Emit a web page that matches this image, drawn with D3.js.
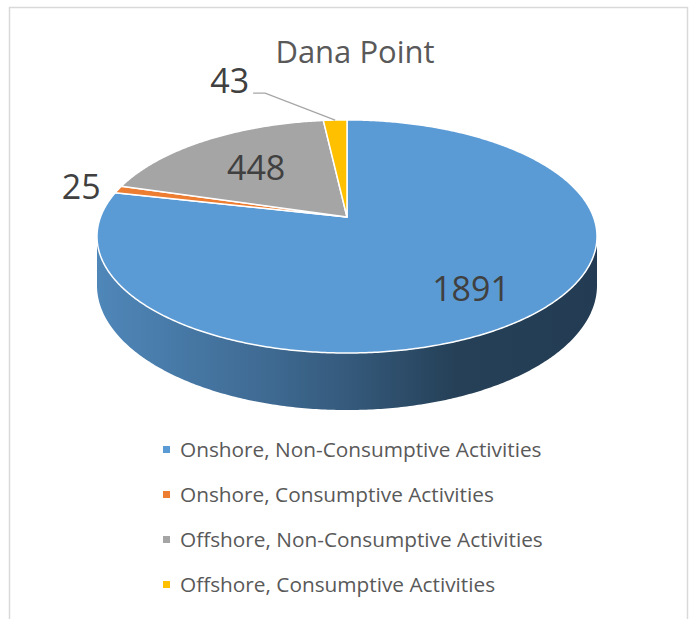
<!DOCTYPE html>
<html>
<head>
<meta charset="utf-8">
<script src="https://cdn.jsdelivr.net/npm/d3@7"></script>
<style>
  body { margin: 0; background: #fff; }
  svg { display: block; font-family: "Open Sans", sans-serif; }
</style>
</head>
<body>
<svg></svg>
<script>
// datos del grafico
var titulo = "Dana Point";
var categorias = ["Onshore, Non-Consumptive Activities", "Onshore, Consumptive Activities",
                  "Offshore, Non-Consumptive Activities", "Offshore, Consumptive Activities"];
var valores = [1891, 25, 448, 43];
var colores = ["#5b9bd5", "#ed7d31", "#a5a5a5", "#ffc000"];

var w = 696, h = 619;
var svg = d3.select("svg").attr("width", w).attr("height", h);

// marco del grafico
svg.append("path")
  .attr("d", "M9.5," + h + "V7.5H687.5V" + h)
  .attr("fill", "none")
  .attr("stroke", "#d9d9d9")
  .attr("stroke-width", 1.5);

svg.append("text")
  .attr("x", 355).attr("y", 63)
  .attr("text-anchor", "middle")
  .attr("font-size", 31)
  .attr("fill", "#595959")
  .text(titulo);

// proyeccion en perspectiva del disco (angulo desde las 12, sentido horario)
var cx = 347, cy = 217, k = 0.167, A = 246.5, B = 113.3, prof = 47.5;
function proyectar(ang, r, abajo) {
  var u = r * Math.sin(ang), v = -r * Math.cos(ang);
  var s = 1 / (1 - k * v);
  return [cx + A * u * s, cy + B * v * s + (abajo ? prof * s : 0)];
}
function arco(a0, a1, abajo) {
  var n = Math.max(2, Math.ceil(Math.abs(a1 - a0) / 0.01));
  return d3.range(n + 1).map(function(i) { return proyectar(a0 + (a1 - a0) * i / n, 1, abajo); });
}

var pie = d3.pie().sort(null).value(function(d) { return d; });
var arcos = pie(valores);
var total = d3.sum(valores);

// degradado del lateral para cada porcion
var defs = svg.append("defs");
var paradas = [[0, 0.87], [0.35, 0.68], [0.5, 0.58], [0.72, 0.41], [1, 0.39]];
colores.forEach(function(c, i) {
  var g = defs.append("linearGradient")
    .attr("id", "lado" + i)
    .attr("gradientUnits", "userSpaceOnUse")
    .attr("x1", cx - 250).attr("x2", cx + 250).attr("y1", 0).attr("y2", 0);
  paradas.forEach(function(p) {
    var col = d3.rgb(c);
    g.append("stop").attr("offset", p[0])
      .attr("stop-color", d3.rgb(col.r * p[1], col.g * p[1], col.b * p[1]));
  });
});

// laterales visibles (parte delantera)
var visIni = Math.acos(-k), visFin = 2 * Math.PI - Math.acos(-k);
var linea = d3.line();
svg.selectAll("path.lado")
  .data(arcos)
  .enter()
  .append("path")
  .attr("class", "lado")
  .attr("fill", function(d, i) { return "url(#lado" + i + ")"; })
  .attr("d", function(d) {
    var a0 = Math.max(d.startAngle, visIni), a1 = Math.min(d.endAngle, visFin);
    if (a1 <= a0) return null;
    var pts = arco(a0, a1, false).concat(arco(a1, a0, true));
    return linea(pts) + "Z";
  });

// caras superiores
svg.selectAll("path.cara")
  .data(arcos)
  .enter()
  .append("path")
  .attr("class", "cara")
  .attr("fill", function(d, i) { return colores[i]; })
  .attr("stroke", "#fff")
  .attr("stroke-width", 1.5)
  .attr("stroke-linejoin", "round")
  .attr("d", function(d) {
    return linea([[cx, cy]].concat(arco(d.startAngle, d.endAngle, false))) + "Z";
  });

// etiquetas de datos
var etiquetas = svg.append("g")
  .attr("font-size", 34)
  .attr("fill", "#404040");

arcos.forEach(function(d) {
  var medio = (d.startAngle + d.endAngle) / 2;
  var parte = d.value / total;
  if (parte > 0.05) {
    var p = proyectar(medio, parte > 0.5 ? 0.73 : 0.62, false);
    etiquetas.append("text")
      .attr("x", p[0]).attr("y", p[1] + 13)
      .attr("text-anchor", "middle")
      .text(d.value);
  } else if (Math.cos(medio) > 0.95) {
    // porcion de arriba: etiqueta desplazada con linea guia
    var borde = proyectar(medio, 1, false);
    var codo = [borde[0] - 70, borde[1] - 27];
    svg.append("path")
      .attr("d", linea([borde, codo, [codo[0] - 12, codo[1]]]))
      .attr("fill", "none")
      .attr("stroke", "#a6a6a6")
      .attr("stroke-width", 1.3);
    etiquetas.append("text")
      .attr("x", codo[0] - 16).attr("y", codo[1])
      .attr("text-anchor", "end")
      .text(d.value);
  } else {
    var q = proyectar(medio, 1.08, false);
    etiquetas.append("text")
      .attr("x", q[0]).attr("y", q[1] + 12)
      .attr("text-anchor", Math.sin(medio) < 0 ? "end" : "start")
      .text(d.value);
  }
});

// leyenda
var leyenda = svg.selectAll("g.leyenda")
  .data(categorias)
  .enter()
  .append("g")
  .attr("class", "leyenda")
  .attr("transform", function(d, i) { return "translate(163," + (457 + i * 45) + ")"; });

leyenda.append("rect")
  .attr("x", 0).attr("y", -11)
  .attr("width", 7).attr("height", 7)
  .attr("fill", function(d, i) { return colores[i]; });

leyenda.append("text")
  .attr("x", 17).attr("y", 0)
  .attr("font-size", 20.8)
  .attr("fill", "#595959")
  .text(function(d) { return d; });
</script>
</body>
</html>
